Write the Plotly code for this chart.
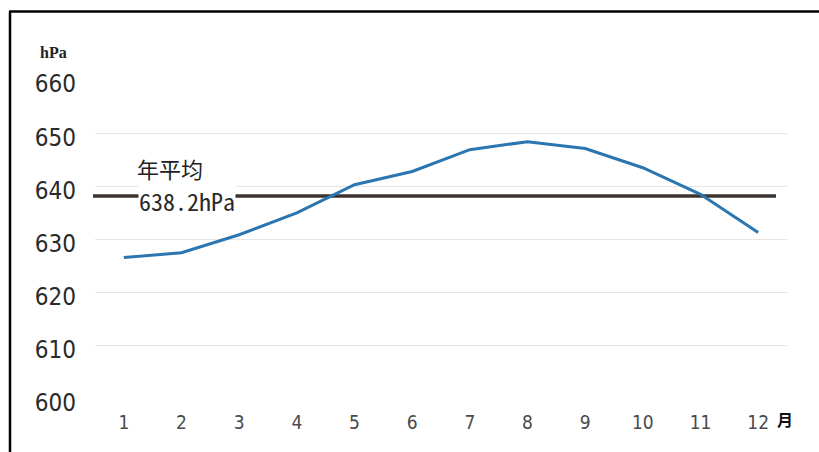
import plotly.graph_objects as go

# Monthly mean station pressure (hPa)
months = [1, 2, 3, 4, 5, 6, 7, 8, 9, 10, 11, 12]
pressure = [626.6, 627.5, 630.9, 635.0, 640.3, 642.8, 646.9, 648.4, 647.1, 643.5, 638.5, 631.3]
annual_mean = 638.2
y_ticks = [600, 610, 620, 630, 640, 650, 660]
x_ticks = months

W, H = 819, 452
ML, MR, MT, MB = 95, 32, 80, 53
PW, PH = W - ML - MR, H - MT - MB


def px_x(p):
    return (p - ML) / PW


def px_y(p):
    return (H - MB - p) / PH


NARROW = "Liberation Sans Narrow, Arial Narrow, DejaVu Sans Condensed, sans-serif"

fig = go.Figure()
fig.add_trace(go.Scatter(
    x=months, y=pressure, mode="lines",
    line=dict(color="#2b76b0", width=3),
    showlegend=False, hoverinfo="skip",
))

fig.update_layout(
    width=W, height=H,
    margin=dict(l=ML, r=MR, t=MT, b=MB),
    paper_bgcolor="white", plot_bgcolor="white",
    xaxis=dict(
        range=[0.5, 12.5], tickvals=x_ticks, ticktext=[str(m) for m in x_ticks],
        showgrid=False, zeroline=False, showline=False, ticks="",
        tickfont=dict(family=NARROW, size=19, color="#4a4a4a"),
        ticklabelstandoff=10,
    ),
    yaxis=dict(
        range=[600, 660], tickvals=y_ticks,
        showgrid=True, gridcolor="#e6e6e6", gridwidth=1,
        zeroline=False, showline=False, ticks="",
        tickfont=dict(family=NARROW, size=24, color="#2a2a2a"),
        ticklabelstandoff=18, ticklabelshift=4,
    ),
    shapes=[
        # annual mean line
        dict(type="line", xref="paper", yref="y",
             x0=px_x(93), x1=px_x(776), y0=annual_mean, y1=annual_mean,
             line=dict(color="#3b3430", width=3.5), layer="below"),
        # frame: top and left edges
        dict(type="line", xref="paper", yref="paper",
             x0=px_x(9), x1=px_x(W), y0=px_y(11.5), y1=px_y(11.5),
             line=dict(color="black", width=2.5)),
        dict(type="line", xref="paper", yref="paper",
             x0=px_x(10), x1=px_x(10), y0=px_y(11.5), y1=px_y(H),
             line=dict(color="black", width=2.5)),
    ],
    annotations=[
        dict(text="<b>hPa</b>", xref="paper", yref="paper", x=px_x(53), y=px_y(52),
             showarrow=False, xanchor="center", yanchor="middle",
             font=dict(family="Liberation Serif, DejaVu Serif, serif", size=16, color="#222")),
        dict(text="年平均", xref="paper", yref="paper", x=px_x(170), y=px_y(168),
             showarrow=False, xanchor="center", yanchor="middle",
             font=dict(family="Noto Sans CJK SC, sans-serif", size=22, color="#222")),
        dict(text=f"{annual_mean}hPa", xref="paper", yref="y", x=px_x(187), y=annual_mean,
             showarrow=False, xanchor="center", yanchor="middle", yshift=-5,
             bgcolor="white", borderpad=0,
             font=dict(family="Noto Sans Mono CJK SC, Liberation Mono, DejaVu Sans Mono, monospace",
                       size=24, color="#2a2a2a")),
        dict(text="<b>月</b>", xref="paper", yref="paper", x=px_x(785), y=px_y(419),
             showarrow=False, xanchor="center", yanchor="middle",
             font=dict(family="Noto Sans CJK SC, sans-serif", size=16, color="#111")),
    ],
)

fig.write_html("out.html")
